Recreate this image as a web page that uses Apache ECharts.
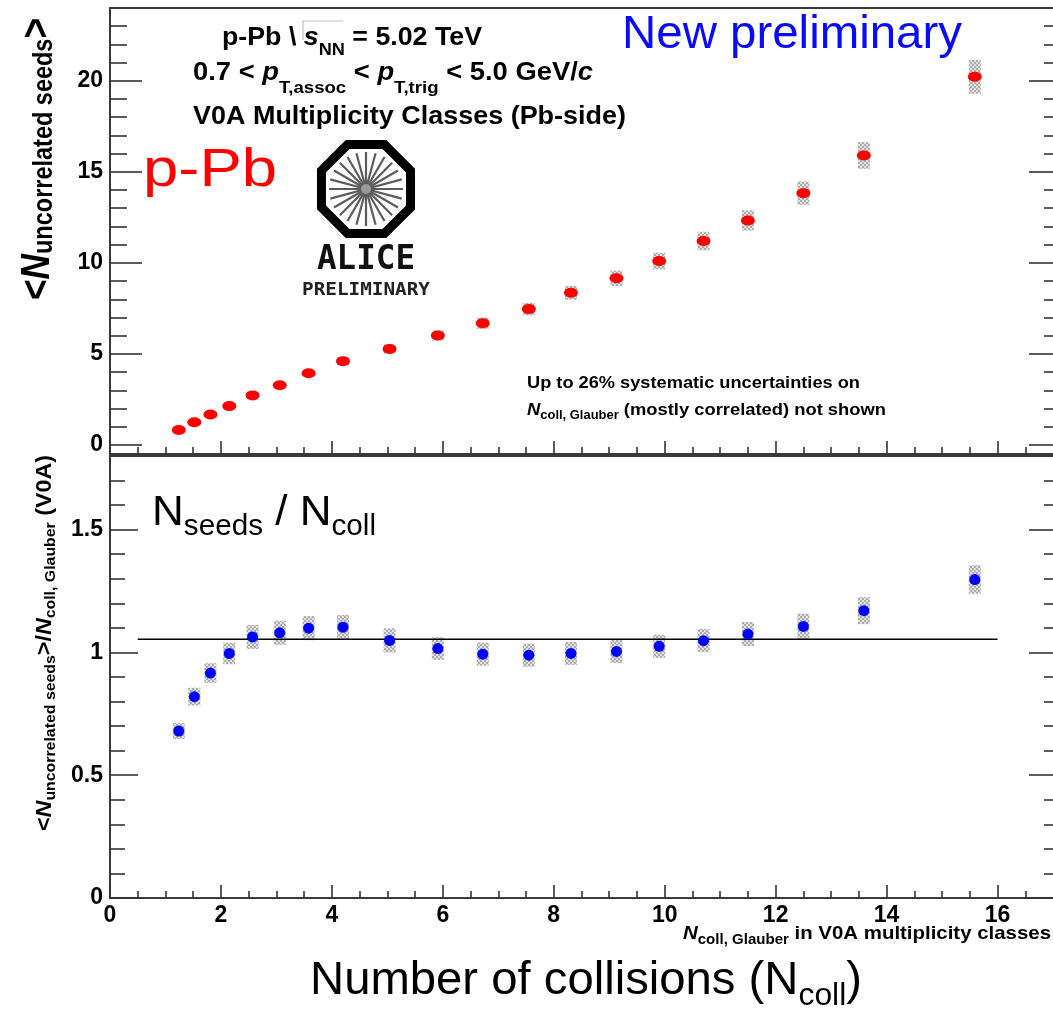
<!DOCTYPE html>
<html>
<head>
<meta charset="utf-8">
<script src="https://cdn.jsdelivr.net/npm/echarts@6/dist/echarts.min.js"></script>
<style>
  html, body { margin: 0; padding: 0; background: #ffffff; }
  #chart { width: 1053px; height: 1010px; }
</style>
</head>
<body>
<div id="chart"></div>
<script>
// <N_coll,Glauber> of each V0A multiplicity class (p-Pb, 5.02 TeV)
const ncoll = [1.24, 1.52, 1.81, 2.15, 2.57, 3.06, 3.58, 4.20, 5.04, 5.91,
               6.72, 7.55, 8.31, 9.13, 9.90, 10.70, 11.50, 12.50, 13.59, 15.59];
// <N uncorrelated seeds> and its systematic uncertainty
const seeds = [0.82, 1.24, 1.67, 2.13, 2.72, 3.28, 3.94, 4.60, 5.27, 6.01,
               6.68, 7.46, 8.36, 9.15, 10.10, 11.20, 12.33, 13.83, 15.90, 20.22];
const seedsSys = [0.10, 0.10, 0.11, 0.12, 0.14, 0.16, 0.19, 0.22, 0.25, 0.28,
                  0.31, 0.34, 0.38, 0.42, 0.46, 0.51, 0.56, 0.64, 0.73, 0.93];
// <N uncorrelated seeds> / N_coll,Glauber and its systematic uncertainty
const ratio = [0.680, 0.820, 0.916, 0.996, 1.063, 1.080, 1.099, 1.103, 1.049, 1.016,
               0.993, 0.989, 0.996, 1.004, 1.025, 1.048, 1.075, 1.106, 1.170, 1.297];
const ratioSys = [0.033, 0.036, 0.040, 0.044, 0.049, 0.049, 0.049, 0.050, 0.049, 0.046,
                  0.047, 0.047, 0.047, 0.047, 0.047, 0.047, 0.049, 0.052, 0.055, 0.058];
// reference level drawn across the ratio panel
const ratioLevel = 1.054;
const levelRange = [0.5, 16];

// tick positions
const xTicks = [0, 2, 4, 6, 8, 10, 12, 14, 16];
const xMinorTicks = [0.5, 1, 1.5, 2.5, 3, 3.5, 4.5, 5, 5.5, 6.5, 7, 7.5, 8.5, 9, 9.5,
                     10.5, 11, 11.5, 12.5, 13, 13.5, 14.5, 15, 15.5, 16.5];
const seedTicks = [0, 5, 10, 15, 20];
const seedMinorTicks = [1, 2, 3, 4, 6, 7, 8, 9, 11, 12, 13, 14, 16, 17, 18, 19, 21, 22, 23];
const ratioTicks = [0, 0.5, 1, 1.5];
const ratioMinorTicks = [0.1, 0.2, 0.3, 0.4, 0.6, 0.7, 0.8, 0.9, 1.1, 1.2, 1.3, 1.4, 1.6, 1.7];

const X_MAX = 17.0;
const AX = '#333333';
const FRAME = '#3a3a3a';
const FONT = '"Liberation Sans", Arial, Helvetica, sans-serif';
const MONO = '"DejaVu Sans Mono", monospace';

// grey checkered fill for the systematic boxes
const pat = document.createElement('canvas');
pat.width = 4; pat.height = 4;
(function () {
  const c = pat.getContext('2d');
  c.fillStyle = '#e2e2e2'; c.fillRect(0, 0, 4, 4);
  c.fillStyle = '#ababab'; c.fillRect(0, 0, 2, 2); c.fillRect(2, 2, 2, 2);
})();
const boxFill = { image: pat, repeat: 'repeat' };

function sysBox(params, api) {
  const x = api.value(0), y = api.value(1), e = api.value(2);
  const hi = api.coord([x, y + e]);
  const lo = api.coord([x, y - e]);
  return {
    type: 'rect',
    shape: { x: hi[0] - 6, y: hi[1], width: 12, height: lo[1] - hi[1] },
    style: { fill: boxFill }
  };
}

// ---- text runs with subscripts, laid out by measured widths ----
const mctx = document.createElement('canvas').getContext('2d');
function fnt(g) {
  return (g.i ? 'italic ' : '') + (g.b ? 'bold ' : '') + g.s + 'px ' + (g.f || FONT);
}
function run(segs, o) {
  let x = 0;
  const kids = [];
  segs.forEach(function (g) {
    const font = fnt(g);
    mctx.font = font;
    const w = mctx.measureText(g.t).width;
    kids.push({
      type: 'text', x: x, y: (g.dy || 0) - 0.35 * g.s,
      style: { text: g.t, font: font, fill: g.c || o.c || '#000',
               align: 'left', textAlign: 'left', verticalAlign: 'middle', textVerticalAlign: 'middle' }
    });
    x += w;
  });
  return {
    type: 'group', x: o.x, y: o.y, rotation: o.rot || 0,
    scaleX: o.w ? o.w / x : 1, scaleY: o.sy || 1,
    silent: true, children: kids
  };
}

// ---- ALICE logo ----
function logo(cx, cy) {
  const R = 48.2, pts = [];
  for (let k = 0; k < 8; k++) {
    const a = Math.PI / 8 + k * Math.PI / 4;
    pts.push([cx + R * Math.cos(a), cy + R * Math.sin(a)]);
  }
  const kids = [];
  for (let k = 0; k < 24; k++) {
    const a = k * Math.PI / 12;
    kids.push({
      type: 'line',
      shape: { x1: cx, y1: cy, x2: cx + 37 * Math.cos(a), y2: cy + 37 * Math.sin(a) },
      style: { stroke: '#5c5c5c', lineWidth: 2.2 }
    });
  }
  kids.push({ type: 'circle', shape: { cx: cx, cy: cy, r: 5 }, style: { fill: '#9a9a9a' } });
  kids.push({
    type: 'polygon', shape: { points: pts },
    style: { fill: 'none', stroke: '#000', lineWidth: 9, lineJoin: 'miter' }
  });
  kids.push(run([{ t: 'ALICE', s: 34, b: 1, f: MONO }], { x: cx - 49, y: cy + 83, w: 98, c: '#111' }));
  kids.push(run([{ t: 'PRELIMINARY', s: 18, b: 1, f: MONO }], { x: cx - 64, y: cy + 108, w: 128, c: '#222' }));
  return { type: 'group', silent: true, children: kids };
}

// ---- axes ----
function xAx(grid, ticks, len, labels, line) {
  return {
    type: 'value', gridIndex: grid, position: 'bottom', min: 0, max: X_MAX,
    axisLine: { show: !!line, onZero: false, lineStyle: { color: FRAME, width: 2 } },
    splitLine: { show: false },
    axisTick: { show: true, inside: true, length: len, customValues: ticks,
                lineStyle: { color: AX, width: 1.6 } },
    axisLabel: labels
      ? { show: true, customValues: ticks, margin: 6, fontFamily: FONT, fontWeight: 'bold',
          fontSize: 23, color: '#000' }
      : { show: false }
  };
}
function xTop(grid) {
  return {
    type: 'value', gridIndex: grid, position: 'top', min: 0, max: X_MAX,
    axisLine: { show: true, onZero: false, lineStyle: { color: FRAME, width: 2 } },
    splitLine: { show: false }, axisTick: { show: false }, axisLabel: { show: false }
  };
}
function yAx(grid, pos, min, max, ticks, len, labels, line) {
  return {
    type: 'value', gridIndex: grid, position: pos, min: min, max: max,
    axisLine: { show: !!line, onZero: false, lineStyle: { color: FRAME, width: 2 } },
    splitLine: { show: false },
    axisTick: { show: true, inside: true, length: len, customValues: ticks,
                lineStyle: { color: AX, width: 1.6 } },
    axisLabel: labels
      ? { show: true, customValues: ticks, margin: 7, fontFamily: FONT, fontWeight: 'bold',
          fontSize: 23, color: '#000' }
      : { show: false }
  };
}

const chart = echarts.init(document.getElementById('chart'), null, { renderer: 'canvas' });

chart.setOption({
  animation: false,
  backgroundColor: '#ffffff',
  grid: [
    { left: 110, top: 8, width: 943, height: 446, show: false },
    { left: 110, top: 456, width: 943, height: 442, show: false }
  ],
  xAxis: [
    xAx(0, xTicks, 13, false, true),
    xAx(0, xMinorTicks, 7, false, false),
    xAx(1, xTicks, 13, true, true),
    xAx(1, xMinorTicks, 7, false, false),
    xTop(0),
    xTop(1)
  ],
  yAxis: [
    yAx(0, 'left', -0.5, 24, seedTicks, 32, true, true),
    yAx(0, 'left', -0.5, 24, seedMinorTicks, 17, false, false),
    yAx(0, 'right', -0.5, 24, seedTicks, 24, false, false),
    yAx(0, 'right', -0.5, 24, seedMinorTicks, 9, false, false),
    yAx(1, 'left', 0, 1.8, ratioTicks, 28, true, true),
    yAx(1, 'left', 0, 1.8, ratioMinorTicks, 15, false, false),
    yAx(1, 'right', 0, 1.8, ratioTicks, 24, false, false),
    yAx(1, 'right', 0, 1.8, ratioMinorTicks, 9, false, false)
  ],
  series: [
    {
      type: 'custom', xAxisIndex: 0, yAxisIndex: 0, z: 2, silent: true,
      renderItem: sysBox,
      data: ncoll.map((x, i) => [x, seeds[i], seedsSys[i]])
    },
    {
      type: 'scatter', xAxisIndex: 0, yAxisIndex: 0, z: 4, silent: true,
      symbol: 'circle', symbolSize: [14, 10],
      itemStyle: { color: '#ff0000', opacity: 1 },
      data: ncoll.map((x, i) => [x, seeds[i]])
    },
    {
      type: 'custom', xAxisIndex: 2, yAxisIndex: 4, z: 2, silent: true,
      renderItem: sysBox,
      data: ncoll.map((x, i) => [x, ratio[i], ratioSys[i]])
    },
    {
      type: 'line', xAxisIndex: 2, yAxisIndex: 4, z: 3, silent: true,
      showSymbol: false, symbol: 'none',
      lineStyle: { color: '#000', width: 1.4 },
      data: levelRange.map(x => [x, ratioLevel])
    },
    {
      type: 'scatter', xAxisIndex: 2, yAxisIndex: 4, z: 4, silent: true,
      symbol: 'circle', symbolSize: 11,
      itemStyle: { color: '#0000ff', opacity: 1 },
      data: ncoll.map((x, i) => [x, ratio[i]])
    }
  ],
  graphic: [
    // axis titles
    run([{ t: '<', s: 36, b: 1 }, { t: 'N', s: 36, b: 1, i: 1 },
         { t: 'uncorrelated seeds', s: 24, b: 1, dy: 2 }, { t: '>', s: 36, b: 1 }],
        { x: 52, y: 300, w: 282, sy: 1.12, rot: Math.PI / 2 }),
    run([{ t: '<', s: 22, b: 1 }, { t: 'N', s: 22, b: 1, i: 1 },
         { t: 'uncorrelated seeds', s: 15, b: 1, dy: 3 }, { t: '>/', s: 22, b: 1 },
         { t: 'N', s: 22, b: 1, i: 1 }, { t: 'coll, Glauber', s: 15, b: 1, dy: 3 },
         { t: ' (V0A)', s: 22, b: 1 }],
        { x: 53, y: 831, w: 376, rot: Math.PI / 2 }),
    run([{ t: 'N', s: 19, b: 1, i: 1 }, { t: 'coll, Glauber', s: 14, b: 1, dy: 5 },
         { t: ' in V0A multiplicity classes', s: 19, b: 1 }],
        { x: 683, y: 940, w: 368 }),
    // collision system / selection
    run([{ t: 'p-Pb \\ ', s: 25, b: 1 }, { t: 's', s: 25, b: 1, i: 1 },
         { t: 'NN', s: 17, b: 1, dy: 9 }, { t: ' = 5.02 TeV', s: 25, b: 1 }],
        { x: 222, y: 47, w: 260 }),
    { type: 'polyline', silent: true,
      shape: { points: [[303, 40], [303, 21], [343, 21]] },
      style: { stroke: '#c4c4c4', lineWidth: 1.2, fill: 'none' } },
    run([{ t: '0.7 < ', s: 25, b: 1 }, { t: 'p', s: 25, b: 1, i: 1 },
         { t: 'T,assoc', s: 17, b: 1, dy: 12 }, { t: ' < ', s: 25, b: 1 },
         { t: 'p', s: 25, b: 1, i: 1 }, { t: 'T,trig', s: 17, b: 1, dy: 12 },
         { t: ' < 5.0 GeV/', s: 25, b: 1 }, { t: 'c', s: 25, b: 1, i: 1 }],
        { x: 193, y: 82, w: 400 }),
    run([{ t: 'V0A Multiplicity Classes (Pb-side)', s: 25, b: 1 }],
        { x: 193, y: 126, w: 433 }),
    // systematic note
    run([{ t: 'Up to 26% systematic uncertainties on', s: 17, b: 1 }],
        { x: 527, y: 389, w: 333 }),
    run([{ t: 'N', s: 17, b: 1, i: 1 }, { t: 'coll, Glauber', s: 12, b: 1, dy: 4 },
         { t: ' (mostly correlated) not shown', s: 17, b: 1 }],
        { x: 527, y: 416, w: 359 }),
    logo(366, 189),
    // overlays
    run([{ t: 'p-Pb', s: 54 }], { x: 143, y: 190, w: 134, c: '#ff0000' }),
    run([{ t: 'New preliminary', s: 46 }], { x: 622, y: 51, w: 340, c: '#0a0aff' }),
    run([{ t: 'N', s: 43 }, { t: 'seeds', s: 29, dy: 9 }, { t: ' / ', s: 43 },
         { t: 'N', s: 43 }, { t: 'coll', s: 29, dy: 9 }],
        { x: 152, y: 528, w: 224 }),
    run([{ t: 'Number of collisions (N', s: 46 }, { t: 'coll', s: 31, dy: 10 }, { t: ')', s: 46 }],
        { x: 310, y: 997, w: 552 })
  ]
});
</script>
</body>
</html>
